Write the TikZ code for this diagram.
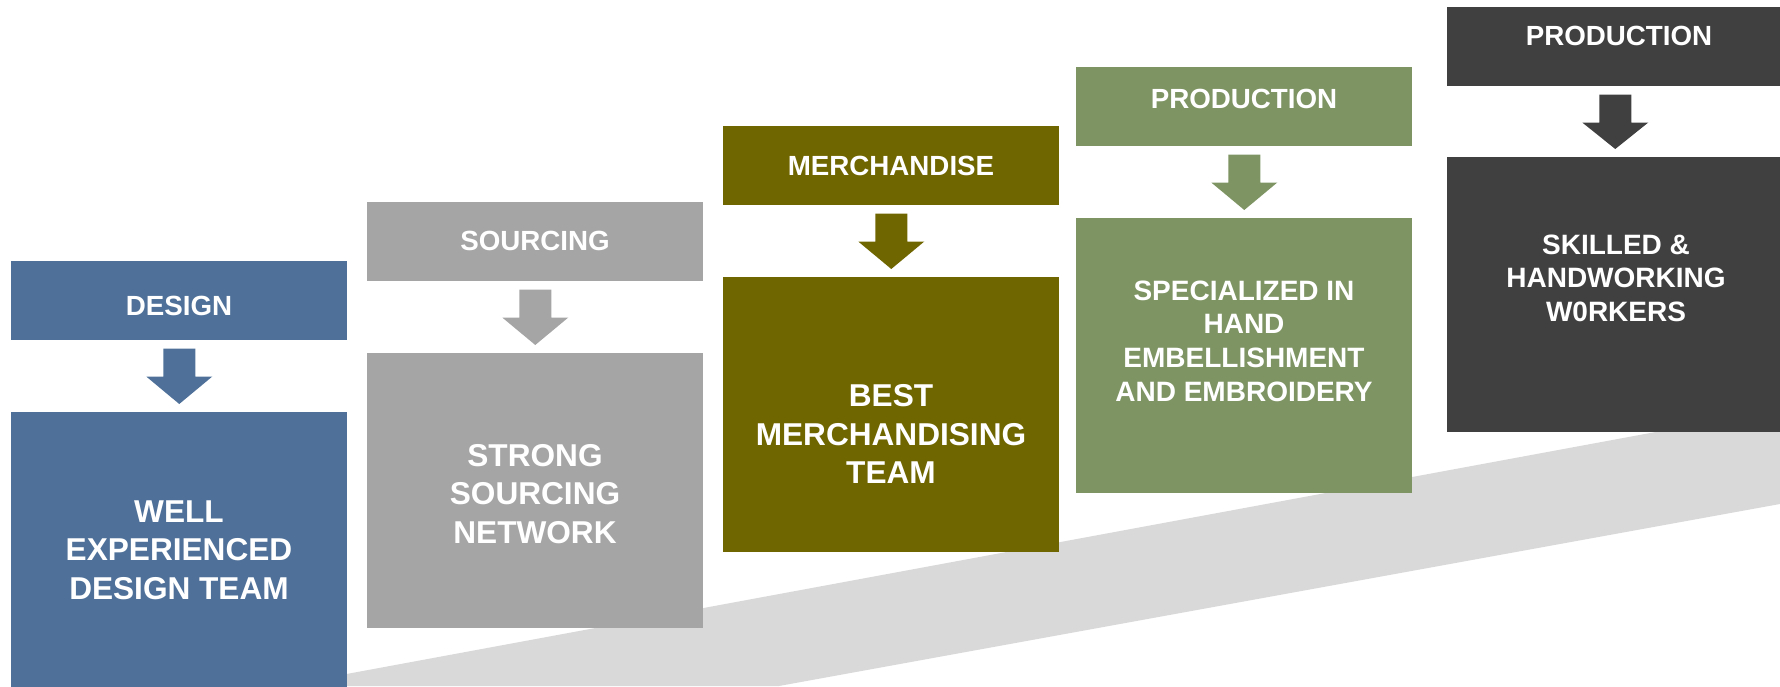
\documentclass[tikz,border=0pt]{standalone}
\usepackage{fontspec}
\setmainfont{Liberation Sans}
\usetikzlibrary{calc}
\definecolor{cblue}{HTML}{4F7199}
\definecolor{cgray}{HTML}{A5A5A5}
\definecolor{colive}{HTML}{706600}
\definecolor{cgreen}{HTML}{7E9463}
\definecolor{cdark}{HTML}{404040}
\definecolor{cband}{HTML}{D9D9D9}
\newcommand{\dnarrow}[3]{%
  \fill[#3] ($(#1.south)+(-16,8)$) -- ($(#1.south)+(16,8)$) -- ($(#1.south)+(16,36)$)
    -- ($(#1.south)+(33,36)$) -- ($(#2.north)+(0,-8)$) -- ($(#1.south)+(-33,36)$)
    -- ($(#1.south)+(-16,36)$) -- cycle;}
\tikzset{
  hdrbox/.style={rectangle, draw=none, inner sep=0pt, anchor=north west,
    minimum width=252pt, minimum height=59.25pt},
  bodybox/.style={rectangle, draw=none, inner sep=0pt, anchor=north west,
    minimum width=252pt, minimum height=206.25pt},
  hdrtext/.style={text=white, inner sep=0pt, align=center,
    font=\bfseries\fontsize{20.8}{25}\selectfont},
  bigtext/.style={text=white, inner sep=0pt, align=center,
    font=\bfseries\fontsize{23.7}{29}\selectfont},
  smalltext/.style={text=white, inner sep=0pt, align=center,
    font=\bfseries\fontsize{21}{25.2}\selectfont},
}
\begin{document}
\begin{tikzpicture}[x=0.75pt, y=-0.75pt]
\useasboundingbox (0,0) rectangle (1780,686);
\clip (0,0) rectangle (1780,686);
% band
\fill[cband] (340,686) -- (340,675.2) -- (1780,409) -- (1780,504) -- (779,686) -- cycle;
% boxes
\node[hdrbox, fill=cblue] (h1) at (11,261) {};
\node[bodybox, fill=cblue] (b1) at (11,412) {};
\node[hdrbox, fill=cgray] (h2) at (367,202) {};
\node[bodybox, fill=cgray] (b2) at (367,353) {};
\node[hdrbox, fill=colive] (h3) at (723,126) {};
\node[bodybox, fill=colive] (b3) at (723,277) {};
\node[hdrbox, fill=cgreen] (h4) at (1076,67) {};
\node[bodybox, fill=cgreen] (b4) at (1076,218) {};
\node[hdrbox, fill=cdark] (h5) at (1447,7) {};
\node[bodybox, fill=cdark] (b5) at (1447,157) {};
% arrows
\dnarrow{h1}{b1}{cblue}
\dnarrow{h2}{b2}{cgray}
\dnarrow{h3}{b3}{colive}
\dnarrow{h4}{b4}{cgreen}
\dnarrow{h5}{b5}{cdark}
% texts
\node[hdrtext] (t1) at (179,306) {DESIGN};
\node[bigtext] (m1) at (179,550) {WELL\\EXPERIENCED\\DESIGN TEAM};
\node[hdrtext] (t2) at (535,240.7) {SOURCING};
\node[bigtext] (m2) at (535,494) {STRONG\\SOURCING\\NETWORK};
\node[hdrtext] (t3) at (891,165.7) {MERCHANDISE};
\node[bigtext] (m3) at (891,434) {BEST\\MERCHANDISING\\TEAM};
\node[hdrtext] (t4) at (1244,98.8) {PRODUCTION};
\node[smalltext] (m4) at (1244,341) {SPECIALIZED IN\\HAND\\EMBELLISHMENT\\AND EMBROIDERY};
\node[hdrtext] (t5) at (1619,36) {PRODUCTION};
\node[smalltext] (m5) at (1616,278) {SKILLED \&\\HANDWORKING\\W0RKERS};
\end{tikzpicture}
\end{document}
